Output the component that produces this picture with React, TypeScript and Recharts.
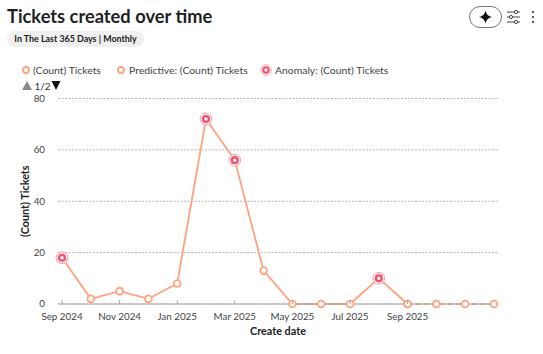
import React from "react";
import { LineChart, Line, XAxis, YAxis, CartesianGrid, Label } from "recharts";

const months = ["Sep 2024","Oct 2024","Nov 2024","Dec 2024","Jan 2025","Feb 2025","Mar 2025","Apr 2025","May 2025","Jun 2025","Jul 2025","Aug 2025","Sep 2025","Oct 2025","Nov 2025","Dec 2025"];
const actual = [18,2,5,2,8,72,56,13,0,0,0,10,0,null,null,null];
const predictive = [null,null,null,null,null,null,null,null,null,null,null,null,0,0,0,0];
const anomaly = [18,null,null,null,null,72,56,null,null,null,null,10,null,null,null,null];
const yTicks = [0,20,40,60,80];
const xTicks = ["Sep 2024","Nov 2024","Jan 2025","Mar 2025","May 2025","Jul 2025","Sep 2025"];
const legendNames = ["(Count) Tickets","Predictive: (Count) Tickets","Anomaly: (Count) Tickets"];

const data = months.map((m,i)=>({ month:m, actual:actual[i], predictive:predictive[i], anomaly:anomaly[i] }));

const FONT = "Lato, 'Noto Sans', sans-serif";
const ORANGE = "#ffa37e";
const RED = "#f1506c";

const PlainDot = (p:any) => p.value==null ? <g key={p.index}/> : (
  <circle key={p.index} cx={p.cx} cy={p.cy} r={3.4} fill="#fff" stroke={ORANGE} strokeWidth={1.8}/>
);
const AnomalyDot = (p:any) => p.value==null ? <g key={p.index}/> : (
  <g key={p.index}>
    <circle cx={p.cx} cy={p.cy} r={5.9} fill="#ffe9ec" stroke="#f79aa8" strokeWidth={0.9}/>
    <circle cx={p.cx} cy={p.cy} r={2.9} fill="#fff" stroke={RED} strokeWidth={2.3}/>
  </g>
);
const XTick = (p:any) => (
  <g>
    <line x1={p.x} x2={p.x} y1={300} y2={304} stroke="#a8a8a8"/>
    <text x={p.x} y={320} textAnchor="middle" fontSize={9.8} fontFamily={FONT} fill="#444">{p.payload.value}</text>
  </g>
);

function LegendMark({ kind }:{kind:number}) {
  return <svg width={12} height={12} style={{display:"block"}}>
    {kind<2 ? <circle cx={6} cy={6} r={3} fill="#fff" stroke={ORANGE} strokeWidth={1.8}/> :
      <><circle cx={6} cy={6} r={5.4} fill="#ffe9ec" stroke="#f79aa8" strokeWidth={0.7}/><circle cx={6} cy={6} r={2.7} fill="#fff" stroke={RED} strokeWidth={2.1}/></>}
  </svg>;
}

const abs = (l:number,t:number,extra:any={}):any => ({position:"absolute",left:l,top:t,whiteSpace:"nowrap",fontFamily:FONT,...extra});

export default function App() {
  return (
    <div style={{position:"absolute",left:0,top:0,width:543,height:354,background:"#fff",overflow:"hidden"}}>
      <div style={abs(7,3,{fontSize:18.3,fontWeight:700,color:"#1f1f1f",lineHeight:"26px"})}>Tickets created over time</div>
      <div style={abs(7,31,{height:16,width:137,borderRadius:8,background:"#efefef",fontSize:8.9,fontWeight:700,color:"#222",lineHeight:"16px",textAlign:"center"})}>In The Last 365 Days | Monthly</div>

      {legendNames.map((n,i)=>(
        <div key={n} style={abs([20,115,260][i],64,{display:"flex",alignItems:"center",fontSize:10.4,color:"#444",lineHeight:"12px",gap:[1,2,3][i]})}>
          <LegendMark kind={i}/><span>{n}</span>
        </div>
      ))}
      <svg style={{position:"absolute",left:20,top:79}} width={44} height={14}>
        <polygon points="2,11 7,2 12,11" fill="#8a8a8a"/>
        <polygon points="31.5,2 40.5,2 36,11" fill="#111"/>
        <text x={14.5} y={11} fontFamily={FONT} fontSize={10} fill="#333">1/2</text>
      </svg>

      <svg style={{position:"absolute",left:468,top:4}} width={70} height={26}>
        <rect x={1.5} y={2.5} width={32} height={21} rx={10.5} fill="#fff" stroke="#777" strokeWidth={1}/>
        <path d="M17.5 6.5 Q18.5 12 24 13 Q18.5 14 17.5 19.5 Q16.5 14 11 13 Q16.5 12 17.5 6.5Z" fill="#111"/>
        <g stroke="#444" strokeWidth={1} fill="#fff">
          <line x1={39} x2={52} y1={8} y2={8}/><line x1={39} x2={52} y1={13} y2={13}/><line x1={39} x2={52} y1={18} y2={18}/>
          <circle cx={48} cy={8} r={1.6}/><circle cx={43} cy={13} r={1.6}/><circle cx={48} cy={18} r={1.6}/>
        </g>
        <g fill="#333"><circle cx={65} cy={8} r={1.1}/><circle cx={65} cy={13} r={1.1}/><circle cx={65} cy={18} r={1.1}/></g>
      </svg>

      <div style={{position:"absolute",left:0,top:0}}>
        <LineChart width={543} height={354} data={data} margin={{top:98.5,right:45,bottom:0,left:0}}>
          <CartesianGrid vertical={false} stroke="#b5b5b5" strokeDasharray="2 1.5" strokeWidth={1}/>
          <XAxis dataKey="month" scale="point" padding={{left:4,right:4}} ticks={xTicks} interval={0} tickLine={false}
            stroke="#a8a8a8" tick={XTick} height={50}>
            <Label value="Create date" position="insideBottom" offset={19} style={{fontSize:10.8,fontWeight:700,fill:"#222",fontFamily:FONT}}/>
          </XAxis>
          <YAxis width={58} domain={[0,80]} ticks={yTicks} axisLine={false} tickLine={false} tickMargin={7}
            tick={{fill:"#444",fontSize:9.8,fontFamily:FONT}}>
            <Label value="(Count) Tickets" angle={-90} position="insideLeft" offset={25} style={{fontSize:10.8,fontWeight:700,fill:"#222",fontFamily:FONT,textAnchor:"middle"}}/>
          </YAxis>
          <Line dataKey="predictive" stroke={ORANGE} strokeWidth={1.8} strokeDasharray="5 3" dot={PlainDot} isAnimationActive={false}/>
          <Line dataKey="actual" stroke={ORANGE} strokeWidth={1.8} dot={PlainDot} isAnimationActive={false}/>
          <Line dataKey="anomaly" stroke="none" dot={AnomalyDot} isAnimationActive={false} connectNulls={false}/>
        </LineChart>
      </div>
    </div>
  );
}
